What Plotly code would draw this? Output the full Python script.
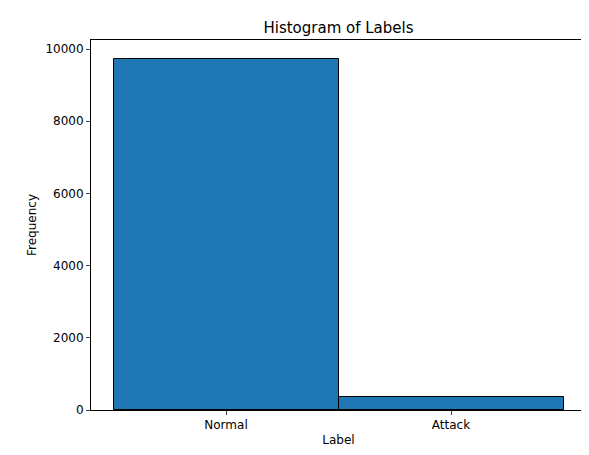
import plotly.graph_objects as go

labels = ["Normal", "Attack"]
counts = [9730, 355]
yticks = [0, 2000, 4000, 6000, 8000, 10000]

fig = go.Figure(go.Bar(
    x=[0, 1], y=counts, width=1.0,
    marker=dict(color="#1f77b4", line=dict(color="black", width=1)),
))
fig.update_layout(
    width=589, height=455, margin=dict(l=83, r=11, t=32, b=53, autoexpand=False),
    plot_bgcolor="white", paper_bgcolor="white",
    font=dict(family="DejaVu Sans", size=12, color="black"),
    title=dict(text="Histogram of Labels", x=0.5, xanchor="center", xref="paper",
               y=0.945, yref="container", yanchor="bottom", font=dict(size=15)),
    showlegend=False, bargap=0,
)
fig.update_xaxes(range=[-0.6, 1.6], tickvals=[0, 1], ticktext=labels, automargin=False,
                 showline=True, linecolor="black", mirror=True, ticks="outside",
                 ticklen=4, showgrid=False, title=dict(text="Label", standoff=4, font=dict(size=12)),
                 zeroline=False, tickfont=dict(size=12))
fig.update_yaxes(range=[0, 10250], tickvals=yticks, ticktext=[str(v) for v in yticks], automargin=False,
                 showline=True, linecolor="black", mirror=True, ticks="outside",
                 ticklen=4, showgrid=False, title=dict(text="Frequency", standoff=6, font=dict(size=12)),
                 zeroline=False, tickfont=dict(size=12))
fig.write_html("out.html")
